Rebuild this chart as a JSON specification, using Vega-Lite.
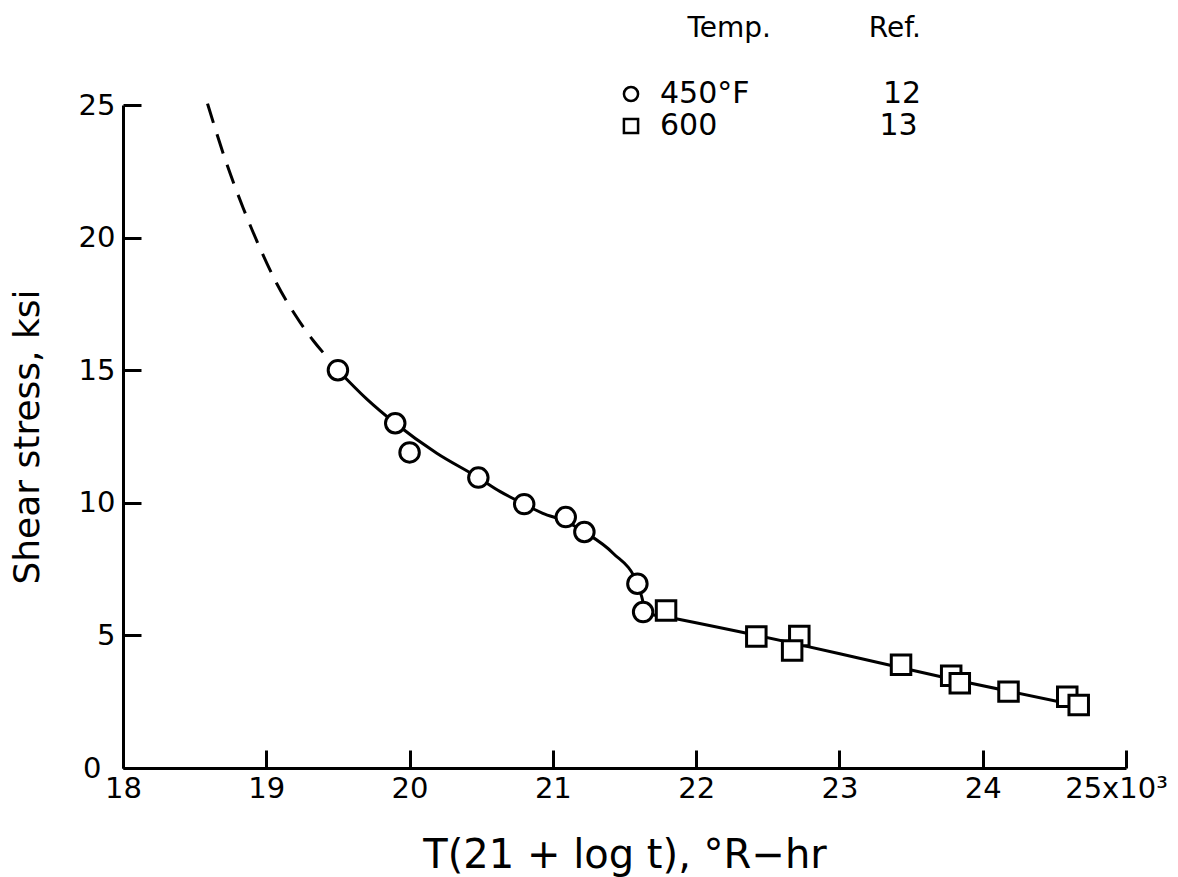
{
  "$schema": "https://vega.github.io/schema/vega-lite/v6.json",
  "width": 1003,
  "height": 663,
  "autosize": {"type": "none"},
  "padding": {"left": 123, "top": 105, "right": 52, "bottom": 109},
  "background": "white",
  "config": {
    "view": {"stroke": null},
    "font": "DejaVu Sans",
    "axis": {
      "grid": false,
      "domainColor": "black",
      "domainWidth": 3,
      "tickColor": "black",
      "tickWidth": 3,
      "tickSize": -18,
      "labelFont": "DejaVu Sans",
      "labelFontSize": 29,
      "labelColor": "black",
      "titleFont": "DejaVu Sans",
      "titleFontWeight": "normal",
      "titleColor": "black"
    },
    "legend": {
      "symbolFillColor": "white",
      "symbolStrokeColor": "black",
      "symbolStrokeWidth": 2.5,
      "symbolOpacity": 1
    }
  },
  "datasets": {
    "points": [
      {"x": 19.5, "y": 15.0, "temp": "450°F"},
      {"x": 19.9, "y": 13.0, "temp": "450°F"},
      {"x": 20.0, "y": 11.9, "temp": "450°F"},
      {"x": 20.48, "y": 10.95, "temp": "450°F"},
      {"x": 20.8, "y": 9.95, "temp": "450°F"},
      {"x": 21.09, "y": 9.46, "temp": "450°F"},
      {"x": 21.22, "y": 8.9, "temp": "450°F"},
      {"x": 21.59, "y": 6.95, "temp": "450°F"},
      {"x": 21.63, "y": 5.88, "temp": "450°F"},
      {"x": 21.79, "y": 5.94, "temp": "600"},
      {"x": 22.42, "y": 4.96, "temp": "600"},
      {"x": 22.72, "y": 4.98, "temp": "600"},
      {"x": 22.67, "y": 4.43, "temp": "600"},
      {"x": 23.43, "y": 3.89, "temp": "600"},
      {"x": 23.78, "y": 3.48, "temp": "600"},
      {"x": 23.84, "y": 3.2, "temp": "600"},
      {"x": 24.18, "y": 2.88, "temp": "600"},
      {"x": 24.59, "y": 2.69, "temp": "600"},
      {"x": 24.67, "y": 2.38, "temp": "600"}
    ],
    "dashed": [
      {"x": 18.59, "y": 25.05},
      {"x": 18.71, "y": 23.0},
      {"x": 18.84, "y": 21.1},
      {"x": 18.94, "y": 19.8},
      {"x": 19.07, "y": 18.3},
      {"x": 19.2, "y": 17.1},
      {"x": 19.33, "y": 16.1},
      {"x": 19.44, "y": 15.4}
    ],
    "solid": [
      {"x": 19.5, "y": 15.0},
      {"x": 19.7, "y": 13.92},
      {"x": 19.9, "y": 13.0},
      {"x": 20.19, "y": 11.87},
      {"x": 20.48, "y": 10.95},
      {"x": 20.63, "y": 10.43},
      {"x": 20.8, "y": 9.95},
      {"x": 20.93, "y": 9.6},
      {"x": 21.09, "y": 9.3},
      {"x": 21.22, "y": 8.9},
      {"x": 21.42, "y": 8.1},
      {"x": 21.59, "y": 6.95},
      {"x": 21.62, "y": 6.46},
      {"x": 21.65, "y": 5.85},
      {"x": 21.79, "y": 5.7},
      {"x": 22.68, "y": 4.7},
      {"x": 23.14, "y": 4.14},
      {"x": 23.81, "y": 3.32},
      {"x": 24.6, "y": 2.42}
    ]
  },
  "layer": [
    {
      "data": {"name": "points"},
      "mark": {"type": "point", "shape": "circle", "filled": false, "stroke": "black", "strokeWidth": 2.5, "size": 200},
      "encoding": {
        "x": {"field": "x", "type": "quantitative", "scale": {"domain": [18, 25], "nice": false, "zero": false},
          "axis": {"values": [18, 19, 20, 21, 22, 23, 24, 25], "labelFlush": false, "labelPadding": 24, "format": "d",
            "labelExpr": "datum.value == 25 ? '25x10³' : datum.label",
            "labelOffset": {"condition": {"test": "datum.value == 25", "value": -10}, "value": 0},
            "title": "T(21 + log t), °R−hr", "titleFontSize": 40, "titlePadding": 32}},
        "y": {"field": "y", "type": "quantitative", "scale": {"domain": [0, 25], "nice": false, "zero": true},
          "axis": {"values": [0, 5, 10, 15, 20, 25], "format": "d",
            "labelPadding": {"condition": {"test": "datum.value == 0", "value": 40}, "value": 26},
            "title": "Shear stress, ksi", "titleFontSize": 36, "titlePadding": 32}},
        "shape": {
          "field": "temp", "type": "nominal",
          "scale": {"domain": ["450°F", "600"], "range": ["circle", "square"]},
          "legend": {
            "orient": "none",
            "legendX": 493,
            "legendY": -90,
            "title": "Temp.\u00a0\u00a0\u00a0\u00a0\u00a0\u00a0\u00a0\u00a0\u00a0\u00a0\u00a0Ref.",
            "titleAnchor": "end",
            "titleFontSize": 28,
            "titleFontWeight": "normal",
            "titleColor": "black",
            "titlePadding": 36,
            "titleLimit": 1000,
            "labelFontSize": 30,
            "labelColor": "black",
            "labelOffset": 14,
            "symbolSize": 200,
            "rowPadding": 2,
            "labelLimit": 0,
            "labelExpr": "datum.label == '450°F' ? '450°F\u00a0\u00a0\u00a0\u00a0\u00a0\u00a0\u00a0\u00a0\u00a0\u00a0\u00a0\u00a0\u00a0\u00a012' : '600\u00a0\u00a0\u00a0\u00a0\u00a0\u00a0\u00a0\u00a0\u00a0\u00a0\u00a0\u00a0\u00a0\u00a0\u00a0\u00a0\u00a013'"
          }
        }
      }
    },
    {
      "data": {"name": "dashed"},
      "mark": {"type": "line", "color": "black", "strokeWidth": 3, "strokeDash": [20, 12], "interpolate": "monotone"},
      "encoding": {
        "x": {"field": "x", "type": "quantitative"},
        "y": {"field": "y", "type": "quantitative"}
      }
    },
    {
      "data": {"name": "solid"},
      "mark": {"type": "line", "color": "black", "strokeWidth": 3, "interpolate": "monotone"},
      "encoding": {
        "x": {"field": "x", "type": "quantitative"},
        "y": {"field": "y", "type": "quantitative"}
      }
    },
    {
      "data": {"name": "points"},
      "mark": {"type": "point", "filled": false, "fill": "white", "fillOpacity": 1, "stroke": "black", "strokeWidth": 3, "size": 380, "opacity": 1},
      "encoding": {
        "x": {"field": "x", "type": "quantitative"},
        "y": {"field": "y", "type": "quantitative"},
        "shape": {"field": "temp", "type": "nominal", "legend": null}
      }
    }
  ]
}
